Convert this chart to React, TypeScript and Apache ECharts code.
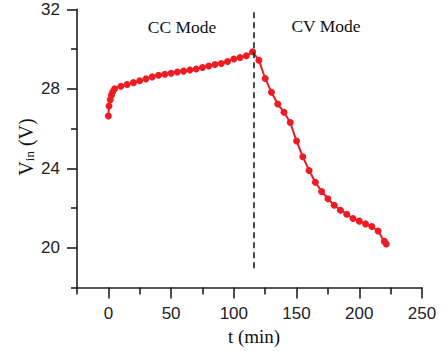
import React, { useEffect, useRef } from "react";
import * as echarts from "echarts";

const timeMin = [
  0, 0.5, 1.5, 2.5, 3.5, 5, 10, 15, 20, 25, 30, 35, 40, 45, 50, 55, 60, 65, 70, 75, 80, 85, 90, 95, 100,
  105, 110, 115, 120, 125, 130, 135, 140, 145, 150, 155, 160, 165, 170, 175, 180, 185, 190, 195, 200,
  205, 210, 215, 220, 221.5,
];
const vin = [
  26.63, 27.13, 27.45, 27.68, 27.85, 28.0, 28.13, 28.22, 28.31, 28.4, 28.5, 28.6, 28.68, 28.73, 28.78,
  28.84, 28.89, 28.95, 29.0, 29.07, 29.15, 29.22, 29.27, 29.37, 29.5, 29.57, 29.66, 29.86, 29.44, 28.52,
  27.83, 27.23, 26.82, 26.3, 25.37, 24.58, 23.89, 23.3, 22.83, 22.47, 22.14, 21.89, 21.69, 21.47, 21.34,
  21.2, 21.07, 20.84, 20.32, 20.19,
];

const xMajorTicks = [0, 50, 100, 150, 200, 250];
const xMinorTicks = [-25, 25, 75, 125, 175, 225];
const yMajorTicks = [20, 24, 28, 32];
const yMinorTicks = [18, 22, 26, 30];
const modeSwitchT = 115.5;
const modeLabels = ["CC Mode", "CV Mode"];

const AXIS_COLOR = "#231f20";
const RED = "#ed1c24";

export default function App() {
  const ref = useRef<HTMLDivElement>(null);
  useEffect(() => {
    if (!ref.current) return;
    const chart = echarts.init(ref.current, null, { renderer: "svg" });
    const grid = { left: 77, right: 24, top: 9.3, bottom: 63.5, containLabel: false };
    const baseX = { type: "value", min: -25, max: 250, gridIndex: 0 };
    const baseY = { type: "value", min: 18, max: 32, gridIndex: 0 };
    const tickStyle = { color: AXIS_COLOR, width: 1.6 };
    chart.setOption({
      animation: false,
      grid,
      xAxis: [
        {
          ...baseX,
          position: "bottom",
          axisLine: { show: true, onZero: false, lineStyle: tickStyle },
          axisTick: { show: true, inside: false, customValues: xMajorTicks, length: 11, lineStyle: tickStyle },
          axisLabel: {
            customValues: xMajorTicks,
            margin: 17,
            fontFamily: "Liberation Sans",
            fontSize: 17,
            color: "#222",
          },
          splitLine: { show: false },
        },
        {
          ...baseX,
          position: "bottom",
          axisLine: { show: false, onZero: false },
          axisTick: { show: true, inside: false, customValues: xMinorTicks, length: 7, lineStyle: tickStyle },
          axisLabel: { show: false },
          splitLine: { show: false },
        },
      ],
      yAxis: [
        {
          ...baseY,
          position: "left",
          axisLine: { show: true, onZero: false, lineStyle: tickStyle },
          axisTick: { show: true, inside: false, customValues: yMajorTicks, length: 10, lineStyle: tickStyle },
          axisLabel: {
            customValues: yMajorTicks,
            margin: 17,
            fontFamily: "Liberation Sans",
            fontSize: 17,
            color: "#222",
          },
          splitLine: { show: false },
        },
        {
          ...baseY,
          position: "left",
          axisLine: { show: false, onZero: false },
          axisTick: { show: true, inside: false, customValues: yMinorTicks, length: 6, lineStyle: tickStyle },
          axisLabel: { show: false },
          splitLine: { show: false },
        },
      ],
      series: [
        {
          type: "line",
          xAxisIndex: 0,
          yAxisIndex: 0,
          data: timeMin.map((t, i) => [t, vin[i]]),
          symbol: "circle",
          symbolSize: 7,
          itemStyle: { color: RED },
          lineStyle: { color: RED, width: 2 },
          markLine: {
            silent: true,
            symbol: "none",
            label: { show: false },
            lineStyle: { color: "#111", type: [6, 4], width: 1.5 },
            data: [[{ coord: [modeSwitchT, 31.85] }, { coord: [modeSwitchT, 18.8] }]],
          },
        },
      ],
      graphic: [
        {
          type: "text",
          x: 182,
          y: 27,
          style: {
            text: modeLabels[0],
            font: '17.5px "Liberation Serif"',
            fill: "#111",
            align: "center",
            verticalAlign: "middle",
          },
        },
        {
          type: "text",
          x: 326,
          y: 26,
          style: {
            text: modeLabels[1],
            font: '17.5px "Liberation Serif"',
            fill: "#111",
            align: "center",
            verticalAlign: "middle",
          },
        },
        {
          type: "text",
          x: 254,
          y: 336,
          style: {
            text: "t (min)",
            font: '19px "Liberation Serif"',
            fill: "#111",
            align: "center",
            verticalAlign: "middle",
          },
        },
        {
          type: "text",
          x: 25.5,
          y: 147,
          rotation: Math.PI / 2,
          style: {
            text: "{a|V}{b|in}{a| (V)}",
            align: "center",
            verticalAlign: "middle",
            fill: "#111",
            rich: {
              a: { fontFamily: "Liberation Serif", fontSize: 20, fill: "#111", color: "#111" },
              b: { fontFamily: "Liberation Serif", fontSize: 13, fill: "#111", color: "#111", verticalAlign: "bottom" },
            },
          },
        },
      ],
    });
    return () => chart.dispose();
  }, []);
  return (
    <div
      ref={ref}
      style={{ position: "absolute", left: 0, top: 0, width: 446, height: 351 }}
    />
  );
}
